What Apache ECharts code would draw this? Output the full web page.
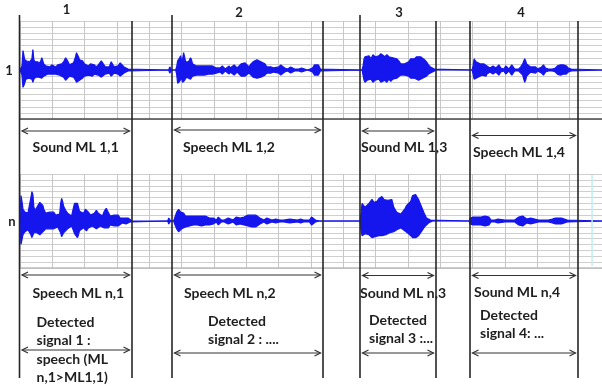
<!DOCTYPE html>
<html><head><meta charset="utf-8">
<script src="https://cdn.jsdelivr.net/npm/echarts@6/dist/echarts.min.js"></script>
<style>html,body{margin:0;padding:0;background:#fff}#c{width:602px;height:386px}</style>
</head><body><div id="c"></div>
<script>
// time (axis units) , upper envelope, lower envelope
const wave1 = [
[0,0,0],[1,0,0],[2,4,-5],[3,19,-17],[4,14,-15],[5,8,-12],[6,10,-9],[7,6,-8],[8,9,-10],[9,7,-8],[10,8,-9],[11,6,-7],
[12,11,-9],[13,20,-12],[14,10,-9],[15,8,-8],[16,9,-7],[17,7,-8],[18,8,-6],[19,6,-7],[20,7,-8],[21,9,-6],[22,12,-8],
[23,11,-7],[24,6,-6],[25,5,-5],[26,4,-5],[28,5,-4],[30,3,-5],[32,5,-4],[34,4,-5],[36,3,-4],[38,5,-4],[40,4,-5],
[42,6,-6],[44,8,-7],[46,12,-10],[47,11,-9],[48,9,-8],[50,5,-6],[52,4,-5],[54,7,-7],[56,13,-10],[57,17,-12],[58,15,-11],
[59,13,-12],[60,10,-10],[62,11,-9],[63,9,-8],[65,6,-6],[67,5,-5],[69,4,-5],[71,6,-5],[73,7,-6],[75,5,-4],[77,3,-4],
[79,5,-5],[80,4,-4],[82,9,-7],[83,10,-8],[84,6,-6],[86,3,-4],[88,4,-4],[90,3,-3],[92,8,-6],[93,7,-6],[95,3,-3],
[97,2,-2],[99,4,-4],[101,7,-6],[103,6,-5],[105,3,-3],[107,2,-2],[109,1,-1],[111,0,0],[150,0,0],[151,3,-3],[152,3,-3],
[153,0,0],[157,0,0],[158,3,-4],[159,9,-13],[160,10,-12],[161,12,-11],[162,14,-10],[163,9,-8],[164,11,-12],[165,17,-12],
[166,13,-10],[167,8,-9],[168,9,-7],[169,7,-6],[170,8,-7],[172,12,-9],[173,10,-8],[174,6,-6],[176,5,-5],[178,4,-5],
[180,5,-4],[182,4,-5],[184,3,-4],[186,4,-5],[188,5,-4],[190,4,-4],[192,3,-4],[194,4,-4],[196,3,-3],[198,2,-3],
[200,3,-3],[202,2,-2],[204,4,-4],[205,3,-3],[207,1,-1],[209,2,-2],[211,4,-4],[212,2,-2],[214,3,-3],[216,5,-5],
[217,4,-4],[219,2,-2],[221,3,-3],[223,6,-6],[225,7,-7],[227,7,-6],[229,5,-5],[231,3,-3],[233,6,-5],[235,8,-7],
[237,9,-8],[239,10,-8],[241,9,-9],[243,8,-7],[245,9,-7],[247,6,-5],[249,3,-3],[251,2,-2],[253,3,-3],[255,4,-3],
[256,2,-2],[258,1,-1],[261,3,-3],[263,5,-5],[265,4,-4],[267,2,-2],[270,1,-1],[273,3,-3],[275,4,-4],[277,1,-1],
[281,1,-1],[284,2,-2],[286,1,-1],[290,0,0],[295,2,-2],[297,5,-5],[299,6,-6],[301,5,-5],[303,1,-1],[305,0,0],
[345,0,0],[346,4,-5],[347,11,-10],[348,13,-12],[350,12,-10],[352,14,-11],[354,11,-9],[356,15,-12],[358,13,-10],
[360,12,-11],[362,14,-9],[364,16,-12],[366,17,-11],[368,13,-10],[370,15,-12],[372,13,-9],[374,14,-11],[376,12,-9],
[378,13,-10],[380,11,-8],[382,9,-7],[384,6,-5],[386,5,-6],[388,6,-5],[390,5,-4],[392,8,-6],[394,11,-8],[396,12,-9],
[398,11,-8],[400,13,-9],[402,14,-10],[404,13,-9],[406,12,-8],[408,10,-7],[410,8,-6],[412,5,-4],[414,3,-3],[416,2,-2],
[418,1,-1],[420,0,0],[456,0,0],[457,4,-4],[458,11,-9],[459,10,-10],[460,8,-8],[462,7,-7],[464,6,-6],[466,5,-5],
[468,6,-6],[470,6,-6],[471,4,-4],[472,3,-3],[474,2,-2],[477,4,-4],[478,3,-3],[480,2,-2],[483,5,-5],[485,2,-2],
[488,1,-1],[490,4,-4],[491,3,-3],[493,1,-1],[496,5,-5],[497,4,-4],[499,1,-1],[503,1,-1],[505,3,-3],[507,6,-5],
[509,11,-12],[510,9,-10],[511,6,-6],[513,5,-4],[515,3,-2],[517,2,-2],[520,3,-3],[522,1,-1],[526,3,-3],[528,5,-5],
[530,2,-2],[533,1,-1],[535,2,-2],[537,1,-1],[540,2,-2],[542,4,-4],[545,5,-5],[548,5,-4],[551,4,-4],[553,2,-2],
[556,1,-1],[558,0,0],[587,0,0]
];
const waveN = [
[0,5,-8],[1,26,-24],[2,20,-26],[3,12,-14],[4,11,-12],[5,9,-11],[6,11,-10],[7,10,-12],[8,8,-9],[9,10,-11],[10,9,-10],
[11,24,-14],[12,30,-17],[13,27,-16],[14,14,-12],[15,12,-10],[16,11,-11],[17,14,-12],[18,12,-10],[19,16,-13],[20,19,-14],
[21,17,-12],[23,16,-11],[24,12,-9],[26,8,-8],[28,7,-7],[30,9,-8],[32,11,-9],[34,9,-8],[36,6,-6],[38,5,-6],[40,7,-7],
[41,18,-12],[42,23,-16],[43,20,-15],[44,15,-12],[46,11,-10],[48,8,-8],[50,6,-6],[52,5,-5],[54,14,-10],[55,18,-13],
[57,16,-15],[58,18,-17],[59,14,-14],[60,10,-10],[62,9,-8],[64,8,-7],[66,12,-9],[67,13,-10],[69,9,-7],[71,6,-5],
[73,5,-5],[75,8,-7],[77,11,-8],[79,8,-6],[81,6,-5],[83,5,-4],[85,10,-7],[87,13,-9],[89,9,-7],[91,5,-4],[92,4,-3],
[95,6,-5],[97,8,-6],[99,6,-5],[101,3,-3],[103,2,-2],[105,3,-3],[107,4,-3],[109,3,-3],[111,1,-1],[113,0,0],[149,0,0],
[150,3,-3],[151,3,-3],[152,0,0],[155,0,0],[156,3,-3],[158,9,-8],[159,11,-10],[160,12,-11],[161,10,-12],[162,9,-9],
[163,7,-8],[165,8,-7],[167,5,-6],[169,4,-5],[171,5,-5],[173,4,-5],[175,5,-4],[177,4,-5],[179,5,-4],[181,4,-5],
[183,5,-5],[185,4,-4],[187,5,-4],[189,4,-5],[191,3,-4],[193,2,-2],[195,3,-3],[198,1,-1],[200,4,-4],[201,3,-3],
[203,1,-1],[206,1,-1],[208,3,-3],[210,3,-3],[212,1,-1],[215,1,-1],[218,4,-4],[220,5,-5],[222,3,-3],[224,2,-2],
[226,4,-4],[228,5,-5],[230,6,-5],[232,5,-5],[234,6,-6],[236,5,-5],[238,6,-6],[240,5,-5],[242,3,-3],[244,2,-2],
[246,1,-1],[249,3,-3],[251,2,-2],[254,1,-1],[258,2,-2],[260,3,-3],[262,1,-1],[266,1,-1],[272,2,-2],[274,1,-1],
[280,1,-1],[283,2,-2],[286,1,-1],[292,1,-1],[294,4,-4],[296,4,-4],[298,1,-1],[302,0,0],[343,0,0],[344,8,-10],
[345,18,-15],[346,16,-14],[348,14,-13],[350,15,-15],[352,18,-14],[354,20,-16],[355,22,-17],[357,19,-15],[358,21,-16],
[360,20,-14],[362,23,-15],[364,24,-16],[365,25,-15],[367,22,-13],[369,23,-14],[371,21,-12],[373,23,-12],[375,22,-13],
[377,14,-11],[378,12,-11],[380,9,-9],[382,7,-8],[384,7,-7],[386,8,-8],[388,12,-10],[390,16,-12],[392,17,-13],
[394,20,-15],[396,26,-17],[397,28,-18],[399,27,-17],[400,26,-18],[402,22,-15],[404,17,-13],[406,12,-9],[408,7,-6],
[410,3,-4],[412,2,-2],[414,1,-1],[416,0,0],[453,0,0],[454,3,-3],[455,5,-5],[457,4,-4],[459,5,-5],[461,4,-4],
[463,3,-3],[465,4,-4],[467,3,-3],[469,5,-5],[471,5,-5],[473,4,-4],[475,1,-1],[477,2,-2],[479,1,-1],[482,2,-2],
[484,1,-1],[489,1,-1],[491,2,-2],[493,1,-1],[499,1,-1],[501,3,-3],[503,4,-4],[505,5,-5],[507,5,-5],[509,4,-4],
[511,2,-2],[513,1,-1],[515,3,-3],[517,1,-1],[523,1,-1],[525,2,-2],[527,1,-1],[533,1,-1],[537,2,-2],[540,3,-3],
[543,3,-3],[546,3,-3],[549,2,-2],[552,1,-1],[554,0,0],[587,0,0]
];
const segmentStarts = [0, 153, 343, 454];
const segmentEnds = [113, 306, 420, 563];
const columnNumbers = ['1', '2', '3', '4'];
const rowNames = ['1', 'n'];
const labels1 = ['Sound ML 1,1', 'Speech ML 1,2', 'Sound ML 1,3', 'Speech ML 1,4'];
const labelsN = ['Speech ML n,1', 'Speech ML n,2', 'Sound ML n,3', 'Sound ML n,4'];
const detected = ['Detected\nsignal 1 :\nspeech (ML\nn,1>ML1,1)', 'Detected\nsignal 2 : ....', 'Detected\nsignal 3 :...', 'Detected\nsignal 4: ...'];

// ---- layout (pixels) ----
const L = {
  numX: [47, 67, 39, 51], numY: [10, 13, 13, 13],
  lineTop: [15, 15, 15, 21], lineTopEnd: 21, lineBottom: 378,
  arrow1Y: [131, 130, 131, 135.5], arrow2Y: [275, 275, 275.5, 275.5], arrow3Y: [350, 353, 353, 353],
  lab1X: [13, 11, 1, 3], lab1Y: [147, 147, 147, 152],
  labNX: [13, 12, 0, 4], labNY: [293, 293, 293, 292],
  detX: [17, 36, 9, 10], detTop: [313, 312, 311, 306],
  rowX: [9, 12], rowY: [71, 222]
};
const BLUE = '#1515ee';
const FONT = 'bold 14px Lato';

const chart = echarts.init(document.getElementById('c'));
function xAx(i, lineColor) {
  return { gridIndex: i, type: 'value', min: 0, max: 587, interval: 32.6,
    axisLabel: { show: false }, axisTick: { show: false },
    axisLine: { show: true, onZero: false, lineStyle: { color: lineColor, width: 1.5 } },
    splitLine: { show: true, lineStyle: { color: '#c6c6c6', width: 1 } } };
}
function yAx(i) {
  return { gridIndex: i, type: 'value', min: -48, max: 48, interval: 6,
    axisLabel: { show: false }, axisTick: { show: false }, axisLine: { show: false },
    splitLine: { show: true, lineStyle: { color: '#cfcfcf', width: 1 } } };
}
function wave(data, idx, k) {
  return { type: 'line', xAxisIndex: idx, yAxisIndex: idx, data: data.map(d => [d[0], d[k]]),
    showSymbol: false, symbol: 'none', smooth: false, z: 3,
    lineStyle: { color: BLUE, width: 1.2 }, areaStyle: { color: BLUE, opacity: 1 } };
}
chart.setOption({
  animation: false,
  backgroundColor: '#fff',
  grid: [{ left: 20, top: 21, width: 587, height: 98 }, { left: 20, top: 174, width: 587, height: 94 }],
  xAxis: [xAx(0, '#4a4a4a'), xAx(1, '#bdbdbd')],
  yAxis: [yAx(0), yAx(1)],
  series: [wave(wave1, 0, 1), wave(wave1, 0, 2), wave(waveN, 1, 1), wave(waveN, 1, 2)]
});

const px = v => chart.convertToPixel({ xAxisIndex: 0 }, v);
const g = [];
const DARK = '#262626';
function vline(x, y1, y2, w, c) {
  g.push({ type: 'line', shape: { x1: x, y1: y1, x2: x, y2: y2 }, style: { stroke: c || DARK, lineWidth: w || 1.6 }, z: 10 });
}
function arrow(x1, x2, y) {
  const s = { stroke: '#333', lineWidth: 1.2, fill: null };
  g.push({ type: 'line', shape: { x1: x1, y1: y, x2: x2, y2: y }, style: s, z: 10 });
  g.push({ type: 'polyline', shape: { points: [[x1 + 6, y - 3], [x1, y], [x1 + 6, y + 3]] }, style: s, z: 10 });
  g.push({ type: 'polyline', shape: { points: [[x2 - 6, y - 3], [x2, y], [x2 - 6, y + 3]] }, style: s, z: 10 });
}
function text(t, x, y, align, va, font) {
  g.push({ type: 'text', x: x, y: y, z: 11,
    style: { text: t, fill: '#1e1e1e', font: font || FONT, align: align || 'left', verticalAlign: va || 'middle', lineHeight: 18.5 } });
}
segmentStarts.forEach((s, i) => {
  const a = Math.round(px(s)) - 0.5 * (i === 0 ? 1 : 0);
  const b = Math.round(px(segmentEnds[i]));
  vline(a, L.lineTop[i], L.lineBottom);
  vline(b, L.lineTopEnd, L.lineBottom);
  arrow(a + 2.5, b - 2.5, L.arrow1Y[i]);
  arrow(a + 2.5, b - 2.5, L.arrow2Y[i]);
  arrow(a + 2.5, b - 2.5, L.arrow3Y[i]);
  text(columnNumbers[i], a + L.numX[i], L.numY[i], 'center', 'middle', 'bold 13px Lato');
  text(labels1[i], a + L.lab1X[i], L.lab1Y[i]);
  text(labelsN[i], a + L.labNX[i], L.labNY[i]);
  text(detected[i], a + L.detX[i], L.detTop[i], 'left', 'top');
});
rowNames.forEach((r, i) => text(r, L.rowX[i], L.rowY[i], 'center', 'middle', 'bold 13px Lato'));
g.push({ type: 'line', shape: { x1: px(577), y1: 175, x2: px(577), y2: 266 }, style: { stroke: '#c4ecf4', lineWidth: 1.5 }, z: 10 });
chart.setOption({ graphic: g });
</script>
</body></html>
